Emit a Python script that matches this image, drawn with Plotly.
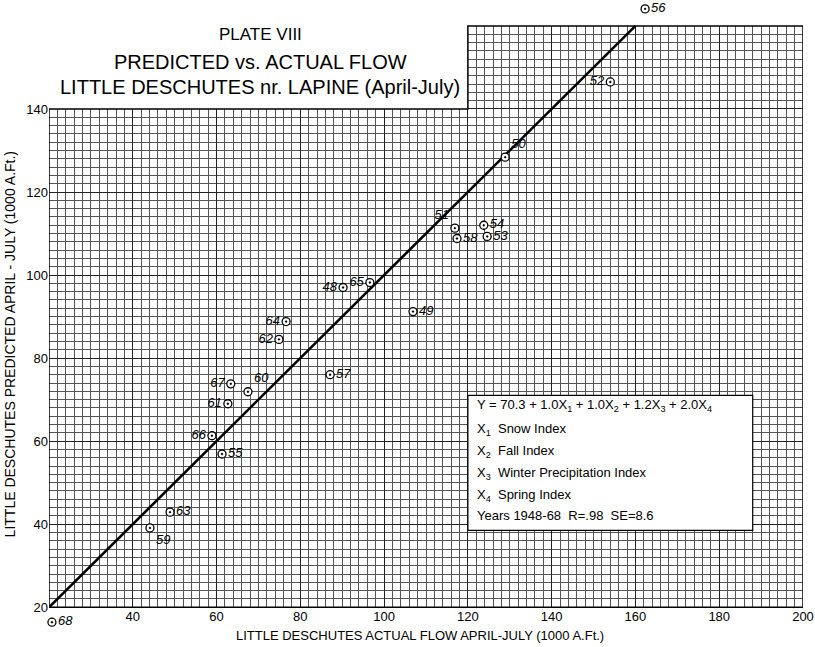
import plotly.graph_objects as go

# ---- data (read from the plate) ----
years = ["56", "52", "50", "51", "58", "54", "53", "48", "65", "49", "64",
         "62", "57", "67", "60", "61", "66", "55", "63", "59", "68"]
actual = [162.3, 154.0, 128.9, 116.9, 117.4, 123.8, 124.6, 90.2, 96.6, 106.9, 76.6,
          74.9, 87.1, 63.4, 67.5, 62.7, 58.9, 61.3, 48.9, 44.1, 20.7]
predicted = [164.1, 146.5, 128.4, 111.3, 108.8, 112.0, 109.3, 97.0, 98.2, 91.2, 88.8,
             84.5, 76.0, 73.8, 71.9, 69.0, 61.3, 56.9, 42.9, 39.1, 16.4]
label_side = ["middle right", "middle left", "top right", "top left", "middle right",
              "middle right", "middle right", "middle left", "middle left", "middle right",
              "middle left", "middle left", "middle right", "middle left", "top right",
              "middle left", "middle left", "middle right", "middle right", "bottom right",
              "middle right"]

line_x = [20, 160]
line_y = [20, 160]

x_ticks = [40, 60, 80, 100, 120, 140, 160, 180, 200]
y_ticks = [20, 40, 60, 80, 100, 120, 140]

title_lines = ["PLATE VIII", "PREDICTED vs. ACTUAL FLOW",
               "LITTLE DESCHUTES nr. LAPINE (April-July)"]
legend_lines = [
    "Y = 70.3 + 1.0X<sub>1</sub> + 1.0X<sub>2</sub> + 1.2X<sub>3</sub> + 2.0X<sub>4</sub>",
    "X<sub>1</sub>  Snow Index",
    "X<sub>2</sub>  Fall Index",
    "X<sub>3</sub>  Winter Precipitation Index",
    "X<sub>4</sub>  Spring Index",
    "Years 1948-68  R=.98  SE=8.6",
]
x_title = "LITTLE DESCHUTES ACTUAL FLOW APRIL-JULY (1000 A.Ft.)"
y_title = "LITTLE DESCHUTES PREDICTED APRIL - JULY (1000 A.Ft.)"

FONT = "Liberation Sans, Arial, sans-serif"

# paper sheet limits and plotting ranges (range slightly larger so the
# off-sheet years 56 and 68 are still drawn)
X0, X1 = 20, 200
Y0, Y1 = 20, 160
XSTEP, YSTEP = 120, 140
YR = [15, 166]

fig = go.Figure()

fig.add_trace(go.Scatter(x=line_x, y=line_y, mode="lines",
                         line=dict(color="black", width=2.6),
                         hoverinfo="skip", showlegend=False))

fig.add_trace(go.Scatter(
    x=actual, y=predicted, mode="markers+text",
    text=years, textposition=label_side,
    textfont=dict(family=FONT, size=13, color="black", style="italic"),
    marker=dict(symbol="circle-dot", size=8, color="white",
                line=dict(color="black", width=1.3)),
    cliponaxis=False, showlegend=False))

grid_minor = dict(dtick=2, tick0=20, showgrid=True, gridcolor="#555555",
                  gridwidth=0.75, ticks="")
fig.update_xaxes(range=[X0, X1], tickmode="array", tickvals=x_ticks,
                 showgrid=True, gridcolor="#222222", gridwidth=1.0,
                 minor=grid_minor, zeroline=False, showline=False, ticks="",
                 anchor="free", position=(Y0 - YR[0]) / (YR[1] - YR[0]),
                 tickfont=dict(family=FONT, size=13, color="black"))
fig.update_yaxes(range=YR, tickmode="array", tickvals=y_ticks,
                 showgrid=True, gridcolor="#222222", gridwidth=1.0,
                 minor=grid_minor, zeroline=False, showline=False, ticks="",
                 tickfont=dict(family=FONT, size=13, color="black"))

shapes = []
white = dict(fillcolor="white", line=dict(width=0), layer="between")
# blank paper outside the graph sheet (above gridlines, below marks)
shapes.append(dict(type="rect", xref="x", yref="y", x0=X0 - 1, x1=X1 + 1,
                   y0=YR[0] - 1, y1=Y0, **white))
shapes.append(dict(type="rect", xref="x", yref="y", x0=X0 - 1, x1=X1 + 1,
                   y0=Y1, y1=YR[1] + 1, **white))
shapes.append(dict(type="rect", xref="x", yref="y", x0=X0 - 1, x1=XSTEP,
                   y0=YSTEP, y1=Y1 + 0.1, **white))
# outline of the graph sheet
shapes.append(dict(type="path", xref="x", yref="y",
                   path=f"M{X0},{Y0} L{X1},{Y0} L{X1},{Y1} L{XSTEP},{Y1} "
                        f"L{XSTEP},{YSTEP} L{X0},{YSTEP} Z",
                   line=dict(color="black", width=1.5), layer="above"))
# equation box
shapes.append(dict(type="rect", xref="x", yref="y", x0=120, x1=188, y0=38.5, y1=71,
                   fillcolor="white", line=dict(color="black", width=1.2), layer="above"))

annotations = []
title_y = [157.9, 151.3, 145.3]
title_sz = [17, 20, 20]
for t, yy, sz in zip(title_lines, title_y, title_sz):
    annotations.append(dict(text=t, x=70.4, y=yy, xref="x", yref="y", showarrow=False,
                            font=dict(family=FONT, size=sz, color="black"),
                            xanchor="center", yanchor="middle"))

leg_y = [68.5, 62.8, 57.5, 52.2, 47.0, 42.2]
for t, yy in zip(legend_lines, leg_y):
    annotations.append(dict(text=t, x=121.8, y=yy, xref="x", yref="y", showarrow=False,
                            font=dict(family=FONT, size=13, color="black"),
                            xanchor="left", yanchor="middle"))

annotations.append(dict(text=x_title, x=0.492, y=-0.012, xref="paper", yref="paper",
                        showarrow=False, font=dict(family=FONT, size=13, color="black"),
                        xanchor="center", yanchor="middle"))
annotations.append(dict(text=y_title, x=-0.052, y=0.452, xref="paper", yref="paper",
                        showarrow=False, textangle=-90,
                        font=dict(family=FONT, size=14, color="black"),
                        xanchor="center", yanchor="middle"))

fig.update_layout(width=815, height=647, margin=dict(l=49, r=12, t=1, b=19),
                  paper_bgcolor="white", plot_bgcolor="white",
                  shapes=shapes, annotations=annotations, showlegend=False)

fig.write_html("out.html", config={"displayModeBar": False},
               post_script="document.body.style.margin='0';document.body.style.overflow='hidden';")
